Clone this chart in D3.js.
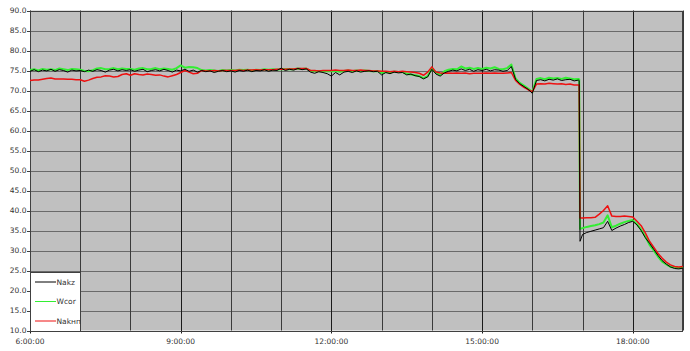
<!DOCTYPE html>
<html>
<head>
<meta charset="utf-8">
<script src="https://cdn.jsdelivr.net/npm/d3@7"></script>
<style>
  body { margin: 0; background: #fff; }
  text { font-family: "DejaVu Sans", sans-serif; font-size: 7.5px; fill: #333; }
</style>
</head>
<body>
<script>
// sample times, 5 min apart, with the step at 16:56/16:57
var times = [
  "6:00","6:05","6:10","6:15","6:20","6:25","6:30","6:35","6:40","6:45","6:50","6:55",
  "7:00","7:05","7:10","7:15","7:20","7:25","7:30","7:35","7:40","7:45","7:50","7:55",
  "8:00","8:05","8:10","8:15","8:20","8:25","8:30","8:35","8:40","8:45","8:50","8:55",
  "9:00","9:05","9:10","9:15","9:20","9:25","9:30","9:35","9:40","9:45","9:50","9:55",
  "10:00","10:05","10:10","10:15","10:20","10:25","10:30","10:35","10:40","10:45","10:50","10:55",
  "11:00","11:05","11:10","11:15","11:20","11:25","11:30","11:35","11:40","11:45","11:50","11:55",
  "12:00","12:05","12:10","12:15","12:20","12:25","12:30","12:35","12:40","12:45","12:50","12:55",
  "13:00","13:05","13:10","13:15","13:20","13:25","13:30","13:35","13:40","13:45","13:50","13:55",
  "14:00","14:05","14:10","14:15","14:20","14:25","14:30","14:35","14:40","14:45","14:50","14:55",
  "15:00","15:05","15:10","15:15","15:20","15:25","15:30","15:35","15:40","15:45","15:50","15:55",
  "16:00","16:05","16:10","16:15","16:20","16:25","16:30","16:35","16:40","16:45","16:50","16:55","16:56","16:57",
  "17:00","17:05","17:10","17:15","17:20","17:25","17:30","17:35","17:40","17:45","17:50","17:55",
  "18:00","18:05","18:10","18:15","18:20","18:25","18:30","18:35","18:40","18:45","18:50","18:55",
  "19:00"
];

var nakz = [
  74.8,75.2,74.7,75.1,74.9,75.3,74.8,75.2,75.0,74.6,75.1,74.9,
  75.0,74.7,75.1,74.8,75.2,75.0,74.6,75.1,75.3,74.9,75.2,75.0,
  75.2,74.8,75.1,75.3,74.7,75.0,75.2,74.9,75.3,75.0,74.6,75.1,
  74.9,75.3,74.8,75.1,74.6,75.0,74.7,74.9,74.5,74.8,75.0,74.7,
  74.9,74.6,75.0,74.8,75.1,74.7,75.0,74.9,75.2,74.8,75.1,75.0,
  75.6,75.0,75.3,75.1,75.5,75.2,75.4,74.6,74.3,74.7,74.5,74.2,
  73.6,74.5,73.9,74.6,74.8,74.5,74.9,74.6,74.8,74.9,74.7,74.8,
  73.9,74.5,74.2,74.6,74.4,74.5,73.9,74.1,73.7,73.5,72.9,73.4,
  75.3,74.1,73.6,74.4,74.8,75.1,74.9,75.4,75.0,75.3,74.8,75.2,
  75.0,75.3,74.9,75.2,75.1,74.8,75.0,76.0,72.8,71.7,71.0,70.3,
  69.3,72.5,72.7,72.4,72.8,72.6,72.9,72.5,72.7,72.8,72.4,72.6,72.5,32.3,
  34.0,34.5,34.8,35.1,35.4,35.7,37.3,35.0,35.6,36.1,36.5,37.0,
  37.3,36.4,35.0,33.2,31.8,30.3,28.8,27.5,26.6,25.9,25.5,25.4,
  25.6
];

var wcor = [
  75.1,75.3,75.0,75.4,75.2,75.3,75.1,75.5,75.3,75.1,75.4,75.3,
  75.2,74.9,74.8,75.1,75.5,75.6,75.3,75.4,75.6,75.3,75.5,75.4,
  75.4,75.2,75.5,75.6,75.3,75.4,75.6,75.3,75.5,75.4,75.2,75.6,
  76.3,75.7,75.9,75.8,75.6,75.1,75.0,75.1,75.0,74.9,75.1,75.0,
  75.1,75.0,75.2,75.1,75.2,75.0,75.2,75.1,75.3,75.2,75.3,75.2,
  75.4,75.3,75.4,75.3,75.5,75.4,75.5,74.9,74.8,74.9,74.8,74.8,
  74.8,74.9,74.7,74.9,75.0,74.8,75.0,74.9,75.0,74.9,74.8,74.9,
  74.4,74.6,74.5,74.7,74.6,74.6,74.2,74.0,73.8,73.6,73.1,73.6,
  75.5,74.4,73.9,74.8,75.2,75.4,75.3,76.0,75.5,75.7,75.4,75.6,
  75.4,75.7,75.5,75.8,75.4,75.3,75.6,76.5,73.0,71.9,71.2,70.5,
  69.6,72.9,73.1,72.8,73.2,73.0,73.1,72.9,73.2,73.0,72.8,72.9,72.8,35.4,
  35.6,35.9,36.1,36.3,36.6,37.0,38.8,35.8,36.2,36.7,37.1,37.4,
  37.6,36.6,35.2,33.5,31.4,30.0,28.5,27.2,26.5,25.9,25.8,25.6,
  25.9
];

var nakhp = [
  72.5,72.6,72.6,72.8,73.0,73.1,72.9,72.9,72.9,72.8,72.8,72.7,
  72.7,72.3,72.6,73.0,73.3,73.4,73.7,73.6,73.4,73.5,74.0,74.2,
  73.8,74.2,74.0,73.9,74.1,74.0,73.8,73.9,73.6,73.4,73.7,74.0,
  74.5,75.0,74.6,74.2,74.3,75.0,74.9,74.9,75.0,74.9,75.0,75.0,
  75.0,75.0,75.1,75.0,75.1,75.1,75.2,75.1,75.2,75.2,75.2,75.3,
  75.3,75.3,75.4,75.4,75.5,75.5,75.5,75.0,75.0,74.9,75.0,75.0,
  75.0,75.1,75.0,75.0,75.1,75.0,75.0,75.1,75.0,75.0,74.9,74.9,
  74.8,74.8,74.7,74.8,74.7,74.8,74.7,74.6,74.5,74.3,73.8,74.6,
  75.9,74.6,74.4,74.3,74.4,74.3,74.4,74.3,74.4,74.2,74.3,74.3,
  74.3,74.4,74.3,74.4,74.3,74.3,74.4,74.5,72.5,71.5,70.8,70.2,
  69.7,71.6,71.7,71.6,71.8,71.7,71.6,71.7,71.5,71.6,71.4,71.4,71.3,38.1,
  38.1,38.2,38.2,38.3,39.1,40.0,41.2,38.6,38.5,38.5,38.6,38.5,
  38.4,37.3,36.2,34.4,32.3,30.8,29.3,28.1,27.1,26.4,26.0,25.9,
  26.0
];

var seriesNames = ["Nakz", "Wcor", "Nakнп"];
var seriesColors = ["#000000", "#33ee33", "#ee1111"];
var yTicks = [10,15,20,25,30,35,40,45,50,55,60,65,70,75,80,85,90];
var xLabelTicks = ["6:00", "9:00", "12:00", "15:00", "18:00"];

var W = 690, H = 351;
var plotL = 30, plotR = 683, plotT = 10.5, plotB = 330.5;

var parse = d3.timeParse("%H:%M");
var fmt = d3.timeFormat("%-H:%M:%S");
var dates = times.map(parse);

var x = d3.scaleTime()
    .domain([parse("6:00"), parse("19:00")])
    .range([plotL, plotR]);
var y = d3.scaleLinear()
    .domain([10, 90])
    .range([plotB, plotT]);

var svg = d3.select("body").append("svg")
    .attr("width", W)
    .attr("height", H);

svg.append("rect")
    .attr("x", plotL).attr("y", plotT)
    .attr("width", plotR - plotL).attr("height", plotB - plotT)
    .attr("fill", "#c0c0c0");

// horizontal grid
svg.append("g").selectAll("line")
    .data(yTicks)
    .enter().append("line")
    .attr("x1", plotL).attr("x2", plotR)
    .attr("y1", function(d) { return Math.round(y(d)) + 0.5; })
    .attr("y2", function(d) { return Math.round(y(d)) + 0.5; })
    .attr("stroke", "#6a6a6a")
    .attr("stroke-width", 1);

// hourly vertical grid
var hours = d3.timeHour.range(parse("6:00"), parse("19:01"));
var labelled = xLabelTicks.map(function(t) { return +parse(t); });
svg.append("g").selectAll("line")
    .data(hours)
    .enter().append("line")
    .attr("x1", function(d) { return Math.round(x(d)) + 0.5; })
    .attr("x2", function(d) { return Math.round(x(d)) + 0.5; })
    .attr("y1", plotT)
    .attr("y2", function(d) { return labelled.indexOf(+d) >= 0 ? plotB + 3 : plotB; })
    .attr("stroke", function(d) { return labelled.indexOf(+d) >= 0 ? "#1a1a1a" : "#3a3a3a"; })
    .attr("stroke-width", 1);

// frame
svg.append("rect")
    .attr("x", plotL + 0.5).attr("y", Math.round(plotT) + 0.5)
    .attr("width", plotR - plotL - 1).attr("height", Math.round(plotB) - Math.round(plotT))
    .attr("fill", "none")
    .attr("stroke", "#404040");

// y axis labels
svg.append("g").selectAll("text")
    .data(yTicks)
    .enter().append("text")
    .attr("x", 26.5)
    .attr("y", function(d) { return y(d); })
    .attr("dy", "0.35em")
    .attr("text-anchor", "end")
    .text(function(d) { return d.toFixed(1); });

svg.append("g").selectAll("line")
    .data(yTicks)
    .enter().append("line")
    .attr("x1", plotL - 3).attr("x2", plotL)
    .attr("y1", function(d) { return Math.round(y(d)) + 0.5; })
    .attr("y2", function(d) { return Math.round(y(d)) + 0.5; })
    .attr("stroke", "#404040");

// x axis labels
svg.append("g").selectAll("text")
    .data(xLabelTicks)
    .enter().append("text")
    .attr("x", function(d) { return x(parse(d)); })
    .attr("y", 344)
    .attr("text-anchor", "middle")
    .text(function(d) { return fmt(parse(d)); });

// series lines
var series = [
  {name: seriesNames[0], values: nakz, color: seriesColors[0], w: 1},
  {name: seriesNames[1], values: wcor, color: seriesColors[1], w: 2},
  {name: seriesNames[2], values: nakhp, color: seriesColors[2], w: 1.5}
];

var line = d3.line()
    .x(function(d, i) { return x(dates[i]); })
    .y(function(d) { return y(d); });

// draw order: green, red, thin black on top
[1, 2, 0].forEach(function(k) {
  svg.append("path")
      .datum(series[k].values)
      .attr("fill", "none")
      .attr("stroke", series[k].color)
      .attr("stroke-width", series[k].w)
      .attr("stroke-linejoin", "round")
      .attr("d", line);
});

// legend
var lg = svg.append("g");
lg.append("rect")
    .attr("x", plotL + 0.5).attr("y", 272.5)
    .attr("width", 50).attr("height", Math.round(plotB) - 272)
    .attr("fill", "#fff")
    .attr("stroke", "#404040");

var rows = lg.selectAll("g.row")
    .data(series)
    .enter().append("g")
    .attr("class", "row")
    .attr("transform", function(d, i) { return "translate(0," + (282 + i * 19.5) + ")"; });
rows.append("line")
    .attr("x1", 35).attr("x2", 56)
    .attr("y1", 0).attr("y2", 0)
    .attr("stroke", function(d) { return d.color; })
    .attr("stroke-width", 1);
rows.append("text")
    .attr("x", 56.5)
    .attr("dy", "0.35em")
    .text(function(d) { return d.name; });
</script>
</body>
</html>
